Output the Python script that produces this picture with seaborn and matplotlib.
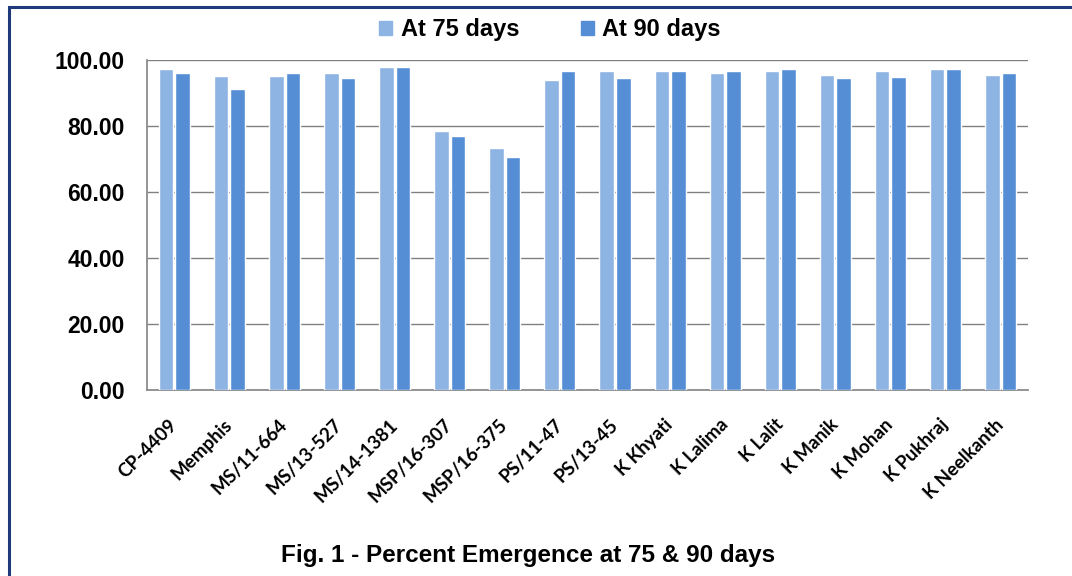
import matplotlib
matplotlib.use("Agg")
import matplotlib.pyplot as plt
import matplotlib.patches as mpatches
from matplotlib.ticker import FixedLocator, FormatStrFormatter
import pandas as pd
import seaborn as sns

# values
varieties = ['CP-4409', 'Memphis', 'MS/11-664', 'MS/13-527', 'MS/14-1381',
             'MSP/16-307', 'MSP/16-375', 'PS/11-47', 'PS/13-45', 'K Khyati',
             'K Lalima', 'K Lalit', 'K Manik', 'K Mohan', 'K Pukhraj', 'K Neelkanth']
at_75 = [97.3, 95.2, 95.2, 96.1, 97.9, 78.5, 73.3, 93.9, 96.7, 96.7,
         96.1, 96.7, 95.5, 96.7, 97.3, 95.5]
at_90 = [96.1, 91.2, 96.1, 94.5, 97.9, 77.0, 70.6, 96.7, 94.5, 96.7,
         96.7, 97.3, 94.5, 94.8, 97.3, 96.1]
series_names = ['At 75 days', 'At 90 days']
colors = ['#8EB4E3', '#558ED5']
y_ticks = [0, 20, 40, 60, 80, 100]

df = pd.DataFrame({
    'variety': varieties * 2,
    'emergence': at_75 + at_90,
    'stage': [series_names[0]] * len(varieties) + [series_names[1]] * len(varieties),
})

sns.set_style('white')
main_font = ['Liberation Sans', 'DejaVu Sans']
plt.rcParams['font.family'] = main_font
plt.rcParams['text.color'] = 'black'
plt.rcParams['xtick.color'] = 'black'
plt.rcParams['ytick.color'] = 'black'

fig = plt.figure(figsize=(10.72, 5.76), dpi=100)
ax = fig.add_axes([0.137, 0.323, 0.822, 0.573])

sns.barplot(data=df, x='variety', y='emergence', hue='stage', palette=colors,
            saturation=1, width=0.6, gap=0.12, edgecolor='white', linewidth=1.0,
            ax=ax, legend=False, zorder=3)

ax.set_ylim(0, 100)
ax.set_xlim(-0.5, len(varieties) - 0.5)
ax.yaxis.set_major_locator(FixedLocator(y_ticks))
ax.yaxis.set_major_formatter(FormatStrFormatter('%.2f'))
ax.grid(axis='y', color='#808080', linewidth=1.0, zorder=0)
for s in ['top', 'right']:
    ax.spines[s].set_visible(False)
for s in ['left', 'bottom']:
    ax.spines[s].set_color('#8C8C8C')
    ax.spines[s].set_linewidth(1.3)

ax.set_xlabel('')
ax.set_ylabel('')
ax.tick_params(axis='y', which='major', length=5, width=1.2, color='#8C8C8C',
               labelcolor='black', direction='out', pad=11)
for lab in ax.get_yticklabels():
    lab.set_fontsize(16.5)
    lab.set_fontweight('bold')

# category boundary ticks like Excel
ax.set_xticks([i + 0.5 for i in range(-1, len(varieties))], minor=True)
ax.tick_params(axis='x', which='minor', length=6, width=1.2, color='#8C8C8C',
               direction='out')
ax.tick_params(axis='x', which='major', length=0, pad=23, labelcolor='black')
ax.set_xticks(range(len(varieties)))
ax.set_xticklabels(varieties, rotation=45, ha='right', va='center',
                   rotation_mode='anchor', fontsize=13.5, fontweight='bold',
                   family=['Lato', 'DejaVu Sans'])

handles = [mpatches.Patch(color=c, label=n) for c, n in zip(colors, series_names)]
fig.legend(handles=handles, loc='center', bbox_to_anchor=(0.513, 0.948), ncol=2,
           frameon=False, prop={'size': 17, 'weight': 'bold', 'family': main_font},
           handlelength=0.55, handleheight=0.55, handletextpad=0.35, columnspacing=2.6)

fig.text(0.493, 0.036, 'Fig. 1 - Percent Emergence at 75 & 90 days', ha='center',
         va='center', fontsize=17.5, fontweight='bold')

# outer frame (partly cut off on the right and bottom)
frame = mpatches.Rectangle((0.0085, -0.05), 1.2, 1.038, transform=fig.transFigure,
                           fill=False, edgecolor='#1F3A7A', linewidth=2.2)
fig.patches.append(frame)

fig.savefig('out.png', dpi=100)
